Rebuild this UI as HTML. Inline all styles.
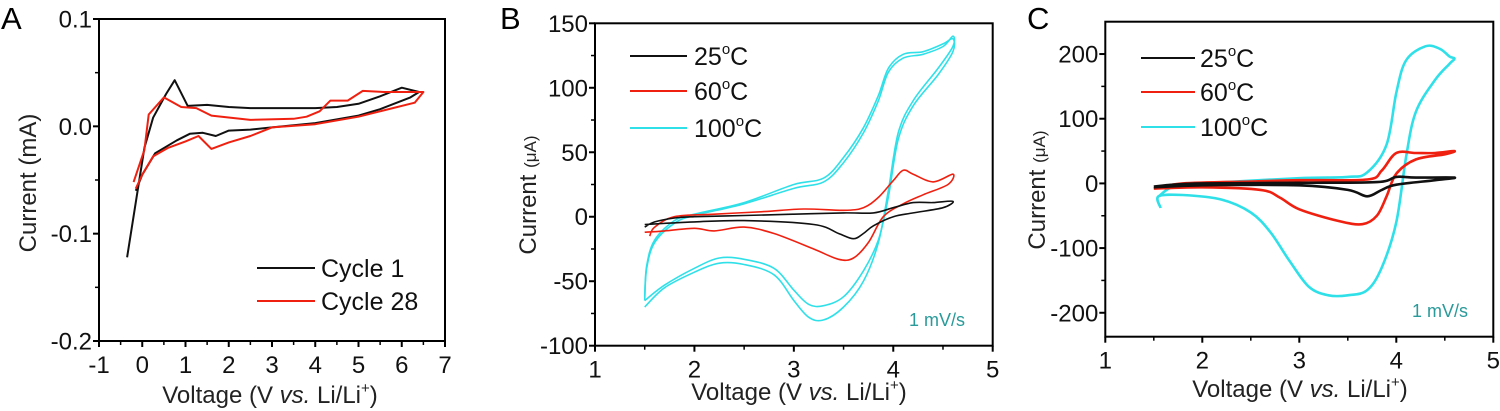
<!DOCTYPE html>
<html><head><meta charset="utf-8"><style>
body{margin:0;background:#fff;}
svg{display:block;font-family:"Liberation Sans",Arial,sans-serif;}
</style></head><body>
<svg id="fig" width="1500" height="411" viewBox="0 0 1500 411" xmlns="http://www.w3.org/2000/svg"></svg>
<script>
// ---------- Panel A data (V, mA) ----------
const aCycle1V = [-0.35,0.05,0.25,0.55,0.75,1.05,1.5,2,2.5,3,4,4.5,5,5.5,6,6.4,6.2,5.5,5,4,3,2.5,2,1.7,1.4,1.1,0.8,0.3,0,-0.15];
const aCycle1I = [-0.122,-0.02,0.008,0.03,0.043,0.019,0.02,0.018,0.017,0.017,0.017,0.018,0.021,0.028,0.036,0.032,0.027,0.016,0.010,0.003,-0.001,-0.003,-0.004,-0.009,-0.006,-0.007,-0.013,-0.025,-0.045,-0.06];
const aCycle28V = [-0.2,0.05,0.15,0.5,0.9,1.25,1.6,2.5,3.5,3.8,4.1,4.35,4.75,5.1,5.6,6.5,6.3,5.5,5,4,3,2.5,2,1.6,1.3,1,0.6,0.25,0,-0.15];
const aCycle28I = [-0.052,-0.022,0.011,0.027,0.018,0.017,0.010,0.006,0.007,0.009,0.014,0.024,0.024,0.033,0.032,0.032,0.022,0.014,0.009,0.002,-0.001,-0.009,-0.015,-0.021,-0.009,-0.014,-0.02,-0.028,-0.045,-0.058];
// ---------- Panel B data (V, µA) ----------
const b25V = [1.5,1.6,1.8,2,2.5,3,3.5,3.8,4,4.2,4.4,4.6,4.5,4.2,4,3.8,3.7,3.6,3.45,3.2,2.5,2,1.5];
const b25I = [-8,-4,-1,0,1,2,3,3,7,11,11,12,7,3,0,-7,-13,-17,-13,-6,-3,-4,-6];
const b60V = [1.55,1.6,1.8,2.2,2.7,3.1,3.5,3.7,3.85,4.0,4.1,4.2,4.4,4.6,4.55,4.3,4.1,3.9,3.75,3.6,3.45,3.2,2.8,2.5,2.2,2,1.7,1.5];
const b60I = [-15,-8,0,2,4,6,5,7,15,28,36,33,27,33,25,17,10,0,-20,-32,-33,-25,-13,-8,-11,-9,-11,-12];
const b100V = [1.5,1.52,1.6,1.8,2,2.5,3,3.3,3.5,3.7,3.85,3.95,4.1,4.3,4.5,4.6,4.6,4.45,4.2,4.05,3.95,3.85,3.7,3.5,3.3,3.15,3.0,2.8,2.5,2.25,2,1.7,1.5];
const b100I = [-65,-40,-20,-5,1,10,22,27,42,65,90,112,123,126,132,140,132,115,90,65,20,-20,-50,-70,-80,-78,-65,-45,-37,-36,-43,-55,-70];
const b100bI = [-62,-38,-18,-3,2,11,25,30,46,69,94,115,126,128,134,138,128,110,86,60,15,-18,-42,-62,-69,-68,-57,-40,-33,-32,-40,-53,-65];
// ---------- Panel C data (V, µA) ----------
const c25V = [1.5,1.7,2,3,3.8,4.0,4.2,4.6,4.4,4.0,3.85,3.7,3.5,3,2,1.5];
const c25I = [-5,-2,0,1,2,10,9,9,5,-2,-10,-20,-10,-3,-3,-6];
const c60V = [1.5,1.8,2.5,3,3.7,3.85,4.0,4.2,4.4,4.6,4.5,4.2,4.0,3.9,3.8,3.65,3.4,3.0,2.8,2.6,2,1.5];
const c60I = [-8,0,3,5,6,20,47,47,47,50,45,37,15,-20,-50,-63,-58,-40,-22,-10,-6,-8];
const c100V = [1.55,1.7,2,3,3.5,3.7,3.9,4.0,4.1,4.3,4.45,4.55,4.6,4.55,4.4,4.2,4.1,4.0,3.85,3.7,3.5,3.3,3.1,2.9,2.7,2.5,2.2,1.8,1.55,1.57];
const c100I = [-20,-5,0,8,10,17,60,140,190,212,208,196,193,185,160,110,40,-60,-130,-165,-173,-173,-160,-120,-75,-45,-25,-18,-20,-38];

const NS = "http://www.w3.org/2000/svg";
const svg = document.getElementById('fig');
function el(tag, attrs, parent){
  const e = document.createElementNS(NS, tag);
  for (const k in attrs) e.setAttribute(k, attrs[k]);
  (parent||svg).appendChild(e);
  return e;
}
function txt(s, attrs, parent){ const t = el('text', attrs, parent); t.textContent = s; return t; }

function makeAxes(p){
  const sx = v => p.x0 + (v - p.xmin) / (p.xmax - p.xmin) * (p.x1 - p.x0);
  const sy = v => p.y1 - (v - p.ymin) / (p.ymax - p.ymin) * (p.y1 - p.y0);
  const g = el('g', {});
  
  
  el('rect', {x:p.x0, y:p.y0, width:p.x1-p.x0, height:p.y1-p.y0, fill:'none', stroke:'#000', 'stroke-width':2}, g);
  p.xticks.forEach((v,i) => {
    const X = sx(v);
    el('line', {x1:X, y1:p.y1, x2:X, y2:p.y1+6, stroke:'#000','stroke-width':2}, g);
    const t = txt(p.xlabels[i], {x:X, y:p.y1+32, 'text-anchor':'middle', 'font-size':24, fill:'#111'}, g);
    
    
  });
  p.xminor.forEach(v => { const X = sx(v); el('line', {x1:X, y1:p.y1, x2:X, y2:p.y1+4, stroke:'#000','stroke-width':1.5}, g); });
  p.yticks.forEach((v,i) => {
    const Y = sy(v);
    el('line', {x1:p.x0-6, y1:Y, x2:p.x0, y2:Y, stroke:'#000','stroke-width':2}, g);
    const t = txt(p.ylabels[i], {x:p.x0-7, y:Y+8.5, 'text-anchor':'end', 'font-size':24, fill:'#111'}, g);
    
    
  });
  p.yminor.forEach(v => { const Y = sy(v); el('line', {x1:p.x0-4, y1:Y, x2:p.x0, y2:Y, stroke:'#000','stroke-width':1.5}, g); });
  return {sx, sy};
}
function polyPath(V, I, ax){
  return V.map((v,i)=>(i?'L':'M')+ax.sx(v).toFixed(1)+','+ax.sy(I[i]).toFixed(1)).join(' ');
}
function smoothPath(V, I, ax){
  const P = V.map((v,i)=>[ax.sx(v), ax.sy(I[i])]);
  let d = 'M'+P[0][0].toFixed(1)+','+P[0][1].toFixed(1);
  for (let i=0;i<P.length-1;i++){
    const p0=P[Math.max(0,i-1)], p1=P[i], p2=P[i+1], p3=P[Math.min(P.length-1,i+2)];
    const c1=[p1[0]+(p2[0]-p0[0])/6, p1[1]+(p2[1]-p0[1])/6];
    const c2=[p2[0]-(p3[0]-p1[0])/6, p2[1]-(p3[1]-p1[1])/6];
    d += ' C'+c1.map(n=>n.toFixed(1)).join(',')+' '+c2.map(n=>n.toFixed(1)).join(',')+' '+p2[0].toFixed(1)+','+p2[1].toFixed(1);
  }
  return d;
}
function xTitle(cx, y){
  const t = el('text', {x:cx, y:y, 'text-anchor':'middle', 'font-size':24, fill:'#222'});
  
  
  t.innerHTML = 'Voltage (V <tspan font-style="italic">vs.</tspan> Li/Li<tspan font-size="15" dy="-10">+</tspan><tspan dy="10">)</tspan>';
}
function yTitle(cx, cy, unitHtml){
  const t = el('text', {x:0, y:0, 'text-anchor':'middle', 'font-size':24, fill:'#222', transform:`translate(${cx},${cy}) rotate(-90)`});
  
  
  t.innerHTML = unitHtml;
}
function legend(x, ys, names, colors, tx, w){
  names.forEach((n,i)=>{
    const g = el('g', {});
    
    
    el('line', {x1:x, y1:ys[i], x2:x+w, y2:ys[i], stroke:colors[i], 'stroke-width':2}, g);
    const t = el('text', {x:tx, y:ys[i]+9, 'font-size':25, fill:'#111'}, g);
    t.innerHTML = n;
  });
}
const deg = s => s + '<tspan font-size="15" dy="-11">o</tspan><tspan dy="11">C</tspan>';

// Panel letters
[['A',1,29],['B',500,29],['C',1027,29]].forEach(([s,x,y])=>{
  const t = txt(s, {x:x, y:y, 'font-size':31, fill:'#000'});
  
  
});

// ----- Panel A -----
const axA = makeAxes({name:'panel-a', x0:99, x1:445, y0:19, y1:341, xmin:-1, xmax:7, ymin:-0.2, ymax:0.1,
  xticks:[-1,0,1,2,3,4,5,6,7], xlabels:['-1','0','1','2','3','4','5','6','7'],
  xminor:[-0.5,0.5,1.5,2.5,3.5,4.5,5.5,6.5],
  yticks:[0.1,0,-0.1,-0.2], ylabels:['0.1','0.0','-0.1','-0.2'], yminor:[0.05,-0.05,-0.15]});
[[aCycle1V,aCycle1I,'#111','cycle-1-line'],[aCycle28V,aCycle28I,'#f02010','cycle-28-line']].forEach(([V,I,c,n])=>{
  const p = el('path', {d:polyPath(V,I,axA), fill:'none', stroke:c, 'stroke-width':2, 'stroke-linejoin':'round'});
  
  
});
xTitle(270, 403);
yTitle(36, 183, 'Current (mA)');
legend(257, [268,301], ['Cycle 1','Cycle 28'], ['#111','#f02010'], 321, 58);

// ----- Panel B -----
const axB = makeAxes({name:'panel-b', x0:595, x1:992.7, y0:23.3, y1:345.7, xmin:1, xmax:5, ymin:-100, ymax:150,
  xticks:[1,2,3,4,5], xlabels:['1','2','3','4','5'], xminor:[1.5,2.5,3.5,4.5],
  yticks:[150,100,50,0,-50,-100], ylabels:['150','100','50','0','-50','-100'],
  yminor:[125,75,25,-25,-75]});
[[b100V,b100bI,'#30e0e8','cv-100c-cycle2'],[b100V,b100I,'#30e0e8','cv-100c'],[b60V,b60I,'#f02010','cv-60c'],[b25V,b25I,'#111','cv-25c']].forEach(([V,I,c,n])=>{
  const p = el('path', {d:smoothPath(V,I,axB), fill:'none', stroke:c, 'stroke-width':1.6});
  
  
});
xTitle(799, 400);
yTitle(536, 195, 'Current <tspan font-size="17">(μA)</tspan>');
legend(630, [56,91,128], [deg('25'),deg('60'),deg('100')], ['#111','#f02010','#30e0e8'], 694, 57);
(function(){ const t = txt('1 mV/s', {x:909, y:326, 'font-size':18, fill:'#2a9a9a'});   })();

// ----- Panel C -----
const axC = makeAxes({name:'panel-c', x0:1105.3, x1:1493.3, y0:21.7, y1:336.7, xmin:1, xmax:5, ymin:-237, ymax:250,
  xticks:[1,2,3,4,5], xlabels:['1','2','3','4','5'], xminor:[1.5,2.5,3.5,4.5],
  yticks:[200,100,0,-100,-200], ylabels:['200','100','0','-100','-200'],
  yminor:[150,50,-50,-150]});
[[c100V,c100I,'#30e0e8','cv-100c'],[c60V,c60I,'#f02010','cv-60c'],[c25V,c25I,'#111','cv-25c']].forEach(([V,I,c,n])=>{
  const p = el('path', {d:smoothPath(V,I,axC), fill:'none', stroke:c, 'stroke-width':2.6});
  
  
});
xTitle(1300, 397);
yTitle(1045, 190, 'Current <tspan font-size="17">(μA)</tspan>');
legend(1141, [58,92,127], [deg('25'),deg('60'),deg('100')], ['#111','#f02010','#30e0e8'], 1200, 54);
(function(){ const t = txt('1 mV/s', {x:1412, y:317, 'font-size':18, fill:'#2a9a9a'});   })();
</script>
</body></html>
